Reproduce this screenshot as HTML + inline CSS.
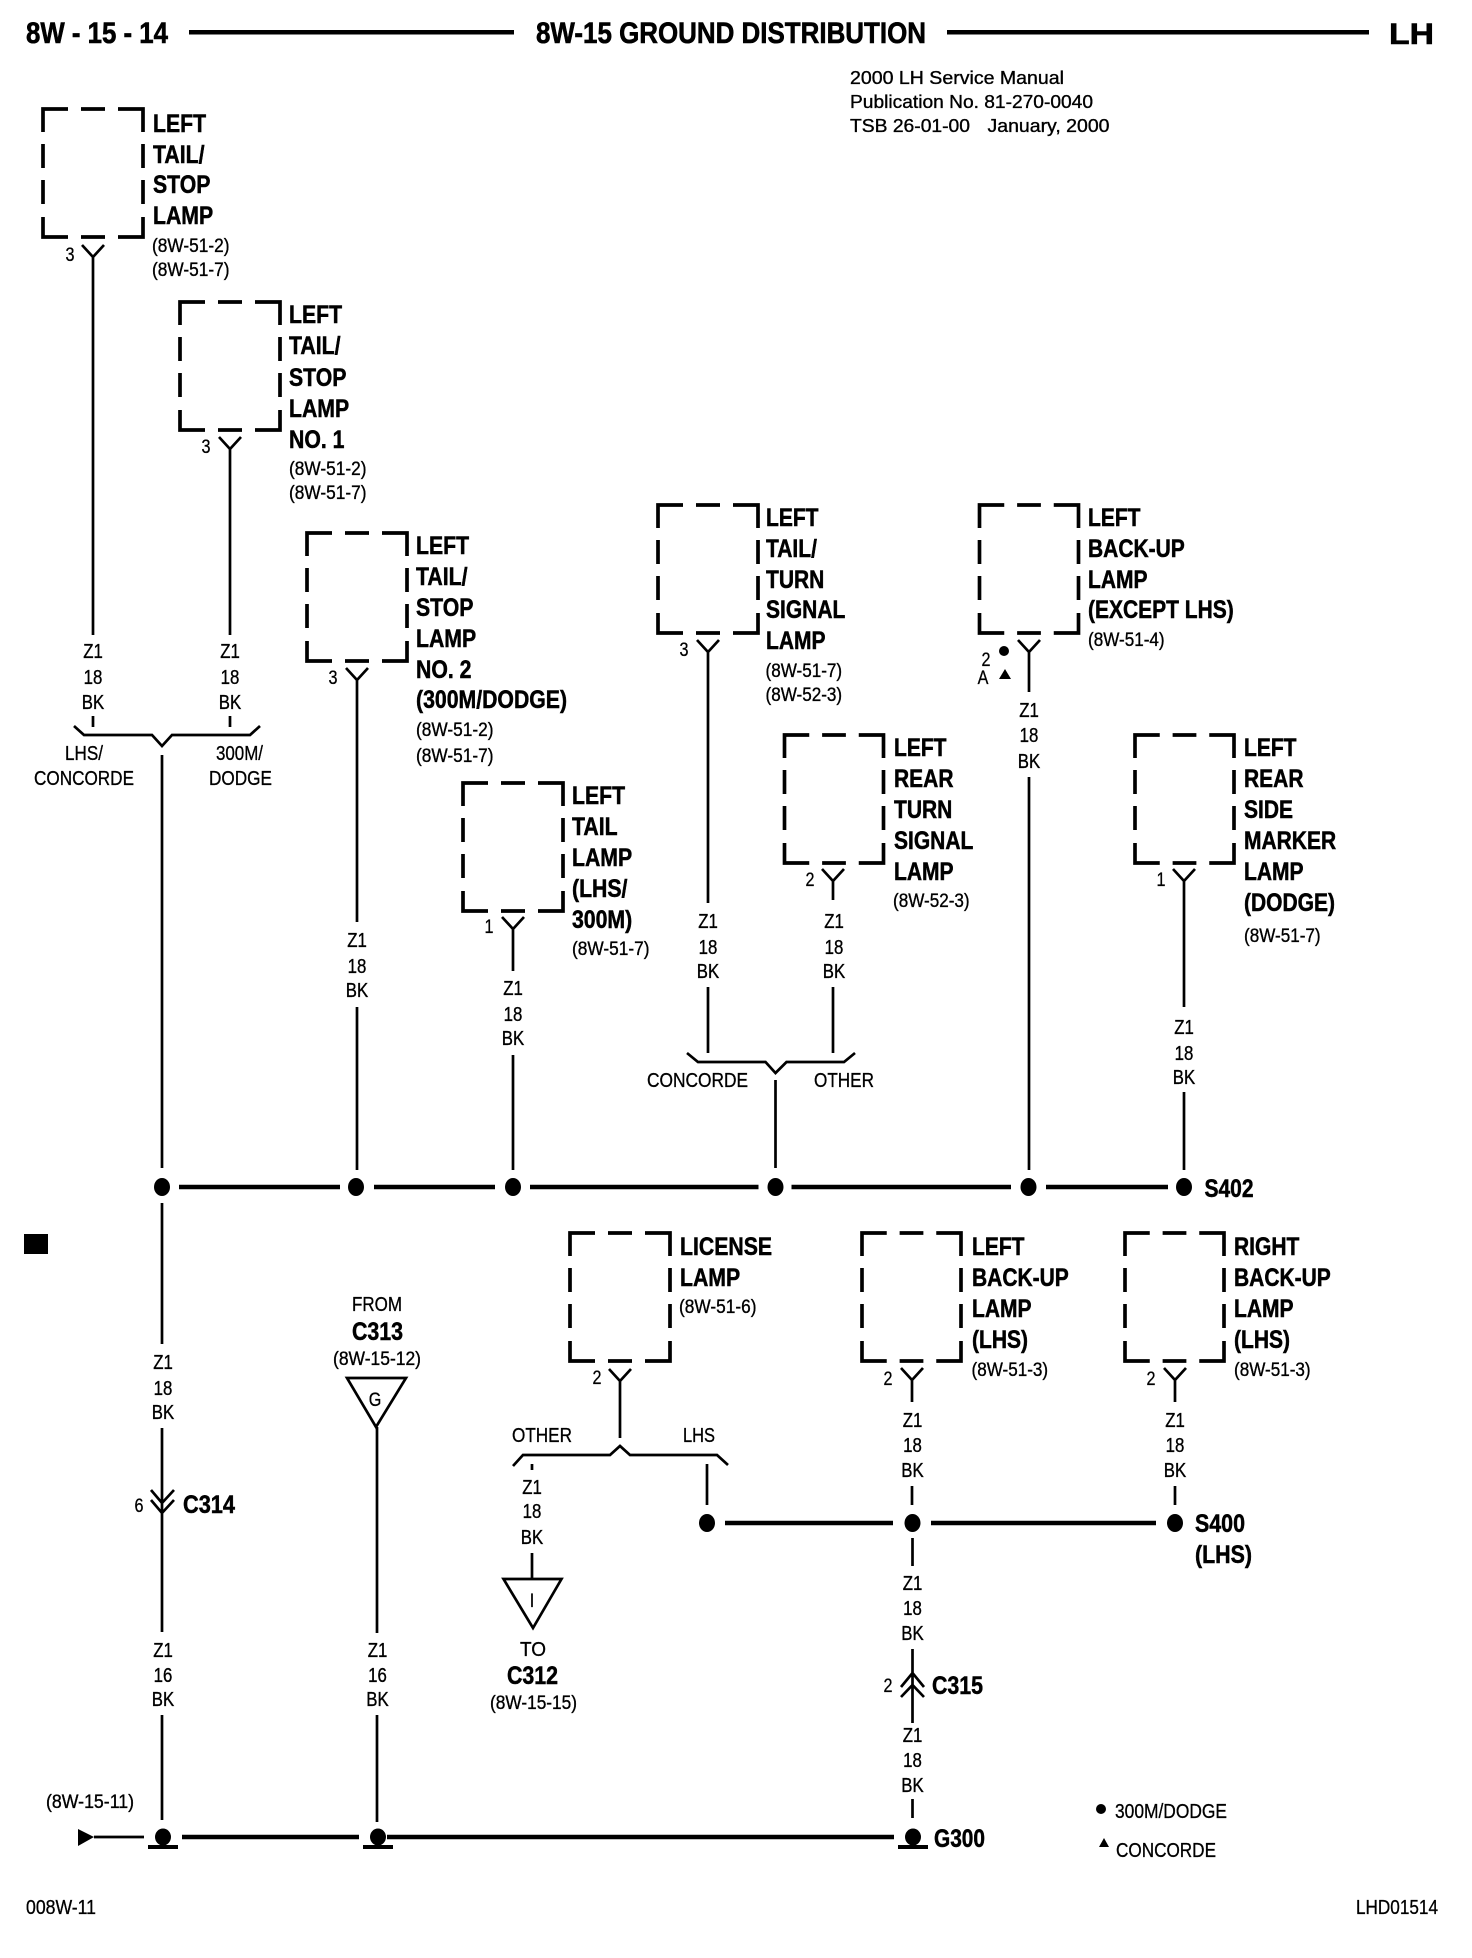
<!DOCTYPE html>
<html lang="en">
<head>
<meta charset="utf-8">
<title>8W-15 Ground Distribution</title>
<style>
html,body{margin:0;padding:0;background:#fff;}
svg{display:block;}
text{font-family:"Liberation Sans",Arial,sans-serif;fill:#000;}
.b{font-size:25px;font-weight:bold;stroke:#000;stroke-width:.5px;}
.s{font-size:19px;stroke:#000;stroke-width:.35px;}
.w{font-size:20px;text-anchor:middle;stroke:#000;stroke-width:.35px;}
.l{font-size:20px;stroke:#000;stroke-width:.3px;}
.t{font-size:30px;font-weight:bold;stroke:#000;stroke-width:.6px;}
.h{font-size:18px;stroke:#000;stroke-width:.35px;}
.n{font-size:19px;text-anchor:middle;stroke:#000;stroke-width:.3px;}
.wire{fill:none;stroke:#000;stroke-width:2.7;stroke-linejoin:miter;}
.bus{fill:none;stroke:#000;stroke-width:4.6;}
.box{fill:none;stroke:#000;stroke-width:3.7;}
</style>
</head>
<body>
<svg xmlns="http://www.w3.org/2000/svg" width="1472" height="1958" viewBox="0 0 1472 1958">
<defs>
<path id="bx" class="box" d="M0,23V0H25M38,0H62M75,0H100V23M0,35V59M100,35V59M0,71V95M100,71V95M0,108V128H25M38,128H62M75,128H100V108"/>
<g id="gd"><ellipse cx="0" cy="0" rx="8" ry="8.5"/><rect x="-15" y="8" width="30" height="4"/></g>
</defs>
<rect width="1472" height="1958" fill="#fff"/>

<!-- header -->
<text class="t" x="26" y="43" textLength="142" lengthAdjust="spacingAndGlyphs">8W - 15 - 14</text>
<rect x="189" y="30" width="325" height="4.5"/>
<text class="t" x="536" y="43" textLength="390" lengthAdjust="spacingAndGlyphs">8W-15 GROUND DISTRIBUTION</text>
<rect x="947" y="30" width="422" height="4.5"/>
<text class="t" x="1389" y="44" textLength="45" lengthAdjust="spacingAndGlyphs">LH</text>
<text class="h" x="850" y="84" textLength="214" lengthAdjust="spacingAndGlyphs">2000 LH Service Manual</text>
<text class="h" x="850" y="108" textLength="243" lengthAdjust="spacingAndGlyphs">Publication No. 81-270-0040</text>
<text class="h" x="850" y="132" textLength="120" lengthAdjust="spacingAndGlyphs">TSB 26-01-00</text>
<text class="h" x="987.5" y="132" textLength="122" lengthAdjust="spacingAndGlyphs">January, 2000</text>

<!-- boxes -->
<use href="#bx" x="43" y="109"/>
<use href="#bx" x="180" y="302"/>
<use href="#bx" x="307" y="533"/>
<use href="#bx" x="463" y="783"/>
<use href="#bx" x="658" y="505"/>
<use href="#bx" transform="translate(979.5,505) scale(.99,1)"/>
<use href="#bx" transform="translate(784.5,735) scale(.99,1)"/>
<use href="#bx" transform="translate(1135,735) scale(.99,1)"/>
<use href="#bx" x="570" y="1233"/>
<use href="#bx" transform="translate(862,1233) scale(.99,1)"/>
<use href="#bx" transform="translate(1125,1233) scale(.99,1)"/>

<!-- box labels -->
<text class="b" transform="translate(153,0) scale(.85,1)"><tspan x="0" y="132">LEFT</tspan><tspan x="0" y="163">TAIL/</tspan><tspan x="0" y="193">STOP</tspan><tspan x="0" y="224">LAMP</tspan></text>
<text class="s" transform="translate(152,0) scale(.91,1)"><tspan x="0" y="252">(8W-51-2)</tspan><tspan x="0" y="276">(8W-51-7)</tspan></text>

<text class="b" transform="translate(289,0) scale(.85,1)"><tspan x="0" y="323">LEFT</tspan><tspan x="0" y="354">TAIL/</tspan><tspan x="0" y="386">STOP</tspan><tspan x="0" y="417">LAMP</tspan><tspan x="0" y="448">NO. 1</tspan></text>
<text class="s" transform="translate(289,0) scale(.91,1)"><tspan x="0" y="475">(8W-51-2)</tspan><tspan x="0" y="499">(8W-51-7)</tspan></text>

<text class="b" transform="translate(416,0) scale(.85,1)"><tspan x="0" y="554">LEFT</tspan><tspan x="0" y="585">TAIL/</tspan><tspan x="0" y="616">STOP</tspan><tspan x="0" y="647">LAMP</tspan><tspan x="0" y="678">NO. 2</tspan><tspan x="0" y="708">(300M/DODGE)</tspan></text>
<text class="s" transform="translate(416,0) scale(.91,1)"><tspan x="0" y="736">(8W-51-2)</tspan><tspan x="0" y="762">(8W-51-7)</tspan></text>

<text class="b" transform="translate(572,0) scale(.85,1)"><tspan x="0" y="804">LEFT</tspan><tspan x="0" y="835">TAIL</tspan><tspan x="0" y="866">LAMP</tspan><tspan x="0" y="897">(LHS/</tspan><tspan x="0" y="928">300M)</tspan></text>
<text class="s" transform="translate(572,0) scale(.91,1)"><tspan x="0" y="955">(8W-51-7)</tspan></text>

<text class="b" transform="translate(766,0) scale(.84,1)"><tspan x="0" y="526">LEFT</tspan><tspan x="0" y="557">TAIL/</tspan><tspan x="0" y="588">TURN</tspan><tspan x="0" y="618">SIGNAL</tspan><tspan x="0" y="649">LAMP</tspan></text>
<text class="s" transform="translate(765.5,0) scale(.9,1)"><tspan x="0" y="677">(8W-51-7)</tspan><tspan x="0" y="701">(8W-52-3)</tspan></text>

<text class="b" transform="translate(1088,0) scale(.84,1)"><tspan x="0" y="526">LEFT</tspan><tspan x="0" y="557">BACK-UP</tspan><tspan x="0" y="588">LAMP</tspan><tspan x="0" y="618">(EXCEPT LHS)</tspan></text>
<text class="s" transform="translate(1088,0) scale(.9,1)"><tspan x="0" y="646">(8W-51-4)</tspan></text>

<text class="b" transform="translate(894,0) scale(.84,1)"><tspan x="0" y="756">LEFT</tspan><tspan x="0" y="787">REAR</tspan><tspan x="0" y="818">TURN</tspan><tspan x="0" y="849">SIGNAL</tspan><tspan x="0" y="880">LAMP</tspan></text>
<text class="s" transform="translate(893,0) scale(.9,1)"><tspan x="0" y="907">(8W-52-3)</tspan></text>

<text class="b" transform="translate(1244,0) scale(.84,1)"><tspan x="0" y="756">LEFT</tspan><tspan x="0" y="787">REAR</tspan><tspan x="0" y="818">SIDE</tspan><tspan x="0" y="849">MARKER</tspan><tspan x="0" y="880">LAMP</tspan><tspan x="0" y="911">(DODGE)</tspan></text>
<text class="s" transform="translate(1244,0) scale(.9,1)"><tspan x="0" y="942">(8W-51-7)</tspan></text>

<text class="b" transform="translate(680,0) scale(.85,1)"><tspan x="0" y="1255">LICENSE</tspan><tspan x="0" y="1286">LAMP</tspan></text>
<text class="s" transform="translate(679,0) scale(.91,1)"><tspan x="0" y="1313">(8W-51-6)</tspan></text>

<text class="b" transform="translate(972,0) scale(.84,1)"><tspan x="0" y="1255">LEFT</tspan><tspan x="0" y="1286">BACK-UP</tspan><tspan x="0" y="1317">LAMP</tspan><tspan x="0" y="1348">(LHS)</tspan></text>
<text class="s" transform="translate(971.5,0) scale(.9,1)"><tspan x="0" y="1376">(8W-51-3)</tspan></text>

<text class="b" transform="translate(1234,0) scale(.84,1)"><tspan x="0" y="1255">RIGHT</tspan><tspan x="0" y="1286">BACK-UP</tspan><tspan x="0" y="1317">LAMP</tspan><tspan x="0" y="1348">(LHS)</tspan></text>
<text class="s" transform="translate(1234,0) scale(.9,1)"><tspan x="0" y="1376">(8W-51-3)</tspan></text>

<!-- wires -->
<path class="wire" d="M82,245L93,257L104,245M93,257V635M93,716V727
M219,437L230,449L241,437M230,449V635M230,716V727
M74,726L84,735H152L162,746L172,735H250L260,726
M162,755V1168M162,1203V1344M162,1428V1632M162,1715V1820
M151,1490L162,1503L174,1490M151,1500L162,1513L174,1500
M346,668L357,680L368,668M357,680V922M357,1007V1170
M502,917L513,929L524,917M513,929V971M513,1055V1170
M697,640L708,652L719,640M708,652V903M708,987V1053
M822,869L833,881L844,869M833,881V900M833,987V1053
M687,1053L698,1062H765.5L775.5,1073L786.5,1062H844L855,1053
M775.5,1080V1168
M1018,640L1029,652L1040,640M1029,652V692M1029,777V1170
M1173,869L1184,881L1195,869M1184,881V1007M1184,1092V1170
M609,1369L620,1381L631,1369M620,1381V1438
M513,1466L523,1455H610L620,1446L630,1455H717L728,1465
M707,1464V1505M532,1464V1470M532,1553V1579
M901,1368L912,1380L923,1368M912,1380V1402M912,1486V1505
M1164,1368L1175,1380L1186,1368M1175,1380V1402M1175,1486V1505
M912.5,1538V1566M912.5,1649V1723M901,1687L912.5,1673L924,1687M901,1697L912.5,1685L924,1697M912.5,1799V1818
M377,1427V1633M377,1715V1822
M94,1837H144"/>
<path class="wire" stroke-width="3" d="M347,1378H406L376,1427Z"/>
<path class="wire" stroke-width="3" d="M503.5,1579H561.5L533,1628Z"/>
<path d="M78,1829L94,1837L78,1846Z"/>

<!-- buses -->
<path class="bus" d="M179,1187H340M374,1187H495M530,1187H758.5M791.5,1187H1011M1046,1187H1168
M725,1523H893M931,1523H1156
M182,1837H359M387,1837H894"/>

<!-- junction dots -->
<ellipse cx="162" cy="1187" rx="8" ry="9"/>
<ellipse cx="356" cy="1187" rx="8" ry="9"/>
<ellipse cx="513" cy="1187" rx="8" ry="9"/>
<ellipse cx="775.5" cy="1187" rx="8" ry="9"/>
<ellipse cx="1028.5" cy="1187" rx="8" ry="9"/>
<ellipse cx="1184" cy="1187" rx="8" ry="9"/>
<ellipse cx="707" cy="1523" rx="8" ry="9"/>
<ellipse cx="912.5" cy="1523" rx="8" ry="9"/>
<ellipse cx="1175" cy="1523" rx="8" ry="9"/>
<use href="#gd" x="163" y="1837"/>
<use href="#gd" x="378" y="1837"/>
<use href="#gd" x="913" y="1837"/>
<rect x="24" y="1234" width="24" height="20"/>
<ellipse cx="1004" cy="651" rx="5" ry="5"/>
<path d="M999,679L1005,669L1011,679Z"/>
<ellipse cx="1101" cy="1809" rx="5" ry="5"/>
<path d="M1099,1847L1104,1838L1109,1847Z"/>

<!-- wire labels -->
<text class="w" transform="translate(93,0) scale(.84,1)"><tspan x="0" y="658">Z1</tspan><tspan x="0" y="684">18</tspan><tspan x="0" y="709">BK</tspan></text>
<text class="w" transform="translate(230,0) scale(.84,1)"><tspan x="0" y="658">Z1</tspan><tspan x="0" y="684">18</tspan><tspan x="0" y="709">BK</tspan></text>
<text class="w" transform="translate(163,0) scale(.84,1)"><tspan x="0" y="1369">Z1</tspan><tspan x="0" y="1395">18</tspan><tspan x="0" y="1419">BK</tspan></text>
<text class="w" transform="translate(163,0) scale(.84,1)"><tspan x="0" y="1657">Z1</tspan><tspan x="0" y="1682">16</tspan><tspan x="0" y="1706">BK</tspan></text>
<text class="w" transform="translate(377.5,0) scale(.84,1)"><tspan x="0" y="1657">Z1</tspan><tspan x="0" y="1682">16</tspan><tspan x="0" y="1706">BK</tspan></text>
<text class="w" transform="translate(357,0) scale(.84,1)"><tspan x="0" y="947">Z1</tspan><tspan x="0" y="973">18</tspan><tspan x="0" y="997">BK</tspan></text>
<text class="w" transform="translate(513,0) scale(.84,1)"><tspan x="0" y="995">Z1</tspan><tspan x="0" y="1021">18</tspan><tspan x="0" y="1045">BK</tspan></text>
<text class="w" transform="translate(708,0) scale(.84,1)"><tspan x="0" y="928">Z1</tspan><tspan x="0" y="954">18</tspan><tspan x="0" y="978">BK</tspan></text>
<text class="w" transform="translate(834,0) scale(.84,1)"><tspan x="0" y="928">Z1</tspan><tspan x="0" y="954">18</tspan><tspan x="0" y="978">BK</tspan></text>
<text class="w" transform="translate(1029,0) scale(.84,1)"><tspan x="0" y="717">Z1</tspan><tspan x="0" y="742">18</tspan><tspan x="0" y="768">BK</tspan></text>
<text class="w" transform="translate(1184,0) scale(.84,1)"><tspan x="0" y="1034">Z1</tspan><tspan x="0" y="1060">18</tspan><tspan x="0" y="1084">BK</tspan></text>
<text class="w" transform="translate(532,0) scale(.84,1)"><tspan x="0" y="1494">Z1</tspan><tspan x="0" y="1518">18</tspan><tspan x="0" y="1544">BK</tspan></text>
<text class="w" transform="translate(912.5,0) scale(.84,1)"><tspan x="0" y="1427">Z1</tspan><tspan x="0" y="1452">18</tspan><tspan x="0" y="1477">BK</tspan></text>
<text class="w" transform="translate(1175,0) scale(.84,1)"><tspan x="0" y="1427">Z1</tspan><tspan x="0" y="1452">18</tspan><tspan x="0" y="1477">BK</tspan></text>
<text class="w" transform="translate(912.5,0) scale(.84,1)"><tspan x="0" y="1590">Z1</tspan><tspan x="0" y="1615">18</tspan><tspan x="0" y="1640">BK</tspan></text>
<text class="w" transform="translate(912.5,0) scale(.84,1)"><tspan x="0" y="1742">Z1</tspan><tspan x="0" y="1767">18</tspan><tspan x="0" y="1792">BK</tspan></text>

<!-- cavity numbers -->
<text class="n" transform="translate(70,261) scale(.85,1)">3</text>
<text class="n" transform="translate(206,453) scale(.85,1)">3</text>
<text class="n" transform="translate(333,684) scale(.85,1)">3</text>
<text class="n" transform="translate(489,933) scale(.85,1)">1</text>
<text class="n" transform="translate(684,656) scale(.85,1)">3</text>
<text class="n" transform="translate(810,886) scale(.85,1)">2</text>
<text class="n" transform="translate(986,666) scale(.85,1)">2</text>
<text class="n" transform="translate(983,684) scale(.85,1)">A</text>
<text class="n" transform="translate(1161,886) scale(.85,1)">1</text>
<text class="n" transform="translate(597,1384) scale(.85,1)">2</text>
<text class="n" transform="translate(888,1385) scale(.85,1)">2</text>
<text class="n" transform="translate(1151,1385) scale(.85,1)">2</text>
<text class="n" transform="translate(139,1512) scale(.85,1)">6</text>
<text class="n" transform="translate(888,1692) scale(.85,1)">2</text>
<text class="n" transform="translate(375,1406) scale(.85,1)">G</text>
<text class="n" transform="translate(532,1607) scale(.85,1)">I</text>

<!-- option labels -->
<text class="l" x="65" y="760" textLength="38" lengthAdjust="spacingAndGlyphs">LHS/</text>
<text class="l" x="34" y="785" textLength="100" lengthAdjust="spacingAndGlyphs">CONCORDE</text>
<text class="l" x="216" y="760" textLength="47" lengthAdjust="spacingAndGlyphs">300M/</text>
<text class="l" x="209" y="785" textLength="63" lengthAdjust="spacingAndGlyphs">DODGE</text>
<text class="l" x="647" y="1087" textLength="101" lengthAdjust="spacingAndGlyphs">CONCORDE</text>
<text class="l" x="814" y="1087" textLength="60" lengthAdjust="spacingAndGlyphs">OTHER</text>
<text class="l" x="512" y="1442" textLength="60" lengthAdjust="spacingAndGlyphs">OTHER</text>
<text class="l" x="683" y="1442" textLength="32" lengthAdjust="spacingAndGlyphs">LHS</text>

<!-- connector / splice labels -->
<text class="b" x="1204.5" y="1197" textLength="49" lengthAdjust="spacingAndGlyphs">S402</text>
<text class="b" x="1195" y="1532" textLength="50" lengthAdjust="spacingAndGlyphs">S400</text>
<text class="b" x="1195" y="1563" textLength="57" lengthAdjust="spacingAndGlyphs">(LHS)</text>
<text class="b" x="183" y="1513" textLength="52" lengthAdjust="spacingAndGlyphs">C314</text>
<text class="b" x="932" y="1694" textLength="51" lengthAdjust="spacingAndGlyphs">C315</text>
<text class="b" x="934" y="1847" textLength="51" lengthAdjust="spacingAndGlyphs">G300</text>
<text class="l" x="352" y="1311" textLength="50" lengthAdjust="spacingAndGlyphs">FROM</text>
<text class="b" x="352" y="1340" textLength="51" lengthAdjust="spacingAndGlyphs">C313</text>
<text class="s" x="333" y="1365" textLength="88" lengthAdjust="spacingAndGlyphs">(8W-15-12)</text>
<text class="l" x="520" y="1656" textLength="26" lengthAdjust="spacingAndGlyphs">TO</text>
<text class="b" x="507" y="1684" textLength="51" lengthAdjust="spacingAndGlyphs">C312</text>
<text class="s" x="490" y="1709" textLength="87" lengthAdjust="spacingAndGlyphs">(8W-15-15)</text>
<text class="s" x="46" y="1808" textLength="88" lengthAdjust="spacingAndGlyphs">(8W-15-11)</text>

<!-- legend / footer -->
<text class="l" x="1115" y="1818" textLength="112" lengthAdjust="spacingAndGlyphs">300M/DODGE</text>
<text class="l" x="1116" y="1857" textLength="100" lengthAdjust="spacingAndGlyphs">CONCORDE</text>
<text class="l" x="26" y="1914" textLength="70" lengthAdjust="spacingAndGlyphs">008W-11</text>
<text class="l" x="1356" y="1914" textLength="82" lengthAdjust="spacingAndGlyphs">LHD01514</text>
</svg>
</body>
</html>
